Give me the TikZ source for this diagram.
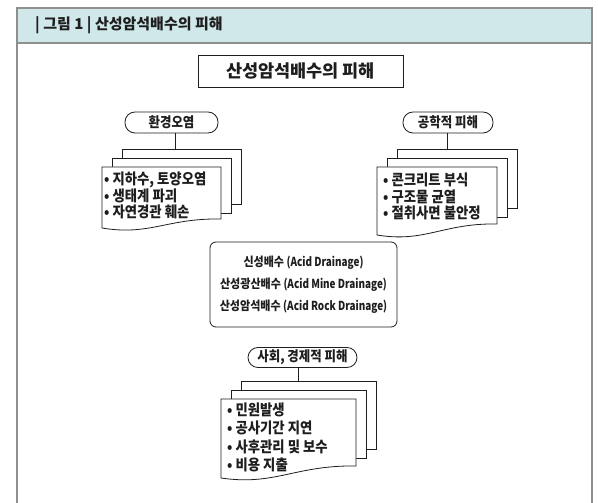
\documentclass[tikz,border=0pt]{standalone}
\usepackage{fontspec}
\setmainfont{Noto Sans CJK KR}
\newfontfamily\kfont[FakeStretch=0.89]{Noto Sans CJK KR}
\newfontfamily\klat[FakeStretch=0.8]{Noto Sans CJK KR}
\definecolor{framegray}{HTML}{8F8F8F}
\definecolor{headfill}{HTML}{D0E8EA}
\definecolor{ink}{HTML}{1E1E1E}
\tikzset{
  pageline/.style={draw=ink, line width=0.8pt, fill=white},
  pill/.style={draw=ink, line width=0.8pt, rounded corners=10pt, inner sep=0pt, text=ink, font=\kfont\fontsize{14}{16}\selectfont\bfseries},
  listtext/.style={align=left, inner sep=0pt, text=ink, font=\kfont\fontsize{15}{16.5}\selectfont\bfseries},
  link/.style={draw=ink, line width=0.7pt},
}
\newcommand\docstack[8]{%
  \pgfmathsetmacro\dsW{#4-#2}%
  \draw[pageline] ({#2+20},{#3-18}) rectangle ({#4+20},{#8});
  \draw[pageline] ({#2+10},{#3-9}) rectangle ({#4+10},{#7});
  \draw[pageline] (#2,#3) -- (#4,#3) -- (#4,#6)
     .. controls ({#4-0.45*\dsW},{#6-1}) and ({#2+0.4*\dsW},{#5+8}) .. (#2,#5) -- cycle;
  \coordinate (#1top) at ({#2+20},{#3-18});
}
\newcommand\latpart[1]{{\klat\bfseries #1}}
\begin{document}
\begin{tikzpicture}[x=1pt,y=-1pt]
\useasboundingbox (0,0) rectangle (598,503);
\fill[white] (0,0) rectangle (598,503);
% frame
\fill[headfill] (17,8) rectangle (592,43);
\draw[framegray, line width=1.4pt] (17,503) -- (17,8) -- (592,8) -- (592,503);
\draw[framegray, line width=1.2pt] (17,43) -- (592,43);
\node[anchor=west, inner sep=0pt, text=ink, font=\fontsize{15}{17}\selectfont\bfseries] (head) at (35,25.5) {| 그림 1 | 산성암석배수의 피해};
% title
\node[draw=ink, line width=0.9pt, minimum width=205pt, minimum height=32pt, inner sep=0pt, text=ink, font=\fontsize{17.5}{19}\selectfont\bfseries] (title) at (300.5,71) {산성암석배수의 피해};
% left group
\docstack{left}{102}{167}{221}{228}{219}{213}{204}
\node[pill, minimum width=93pt, minimum height=21pt] (lpill) at (171.5,122.5) {환경오염};
\draw[link] (lpill.south -| 175,0) -- (175,149);
\node[listtext, anchor=north west] (ltext) at (104,172) {• 지하수, 토양오염\\• 생태계 파괴\\• 자연경관 훼손};
% right group
\docstack{right}{377}{167}{497}{235}{224}{217}{208}
\node[pill, minimum width=90pt, minimum height=21pt] (rpill) at (448,122.5) {공학적 피해};
\draw[link] (rpill.south -| 447,0) -- (447,149);
\node[listtext, anchor=north west] (rtext) at (383,173) {• 콘크리트 부식\\• 구조물 균열\\• 절취사면 불안정};
% center box
\node[draw=ink, line width=0.8pt, rounded corners=6pt, minimum width=187pt, minimum height=85pt, inner sep=0pt, align=center, text=ink, font=\kfont\fontsize{12.4}{22}\selectfont\bfseries] (center) at (303.5,284.5)
  {신성배수 \latpart{(Acid Drainage)}\\산성광산배수 \latpart{(Acid Mine Drainage)}\\산성암석배수 \latpart{(Acid Rock Drainage)}};
% bottom group
\docstack{bottom}{221}{399}{356}{478}{466}{458}{449}
\node[pill, minimum width=109pt, minimum height=20pt] (bpill) at (302.5,357.5) {사회, 경제적 피해};
\draw[link] (bpill.south -| 298,0) -- (298,382);
\node[listtext, anchor=north west, font=\kfont\fontsize{15}{18.5}\selectfont\bfseries] (btext) at (227,402.5) {• 민원발생\\• 공사기간 지연\\• 사후관리 및 보수\\• 비용 지출};
\end{tikzpicture}
\end{document}
